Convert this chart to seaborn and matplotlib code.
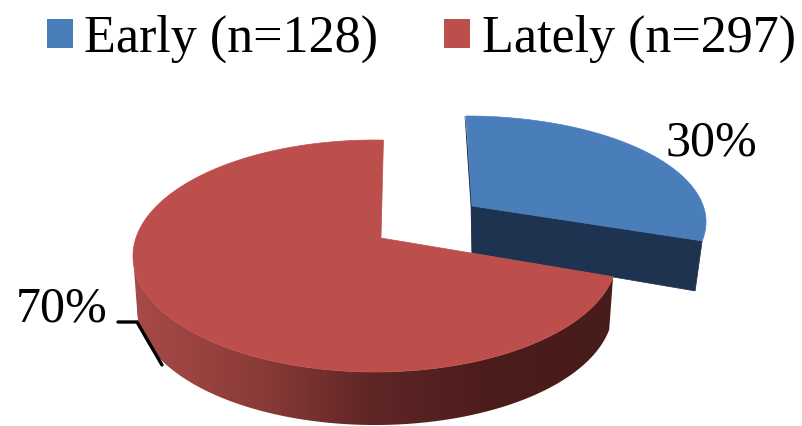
import numpy as np
import matplotlib
matplotlib.use("Agg")
import matplotlib.pyplot as plt
from matplotlib.colors import LinearSegmentedColormap
from matplotlib.patches import Patch, Polygon
import seaborn as sns

# Patient counts per onset group
groups = ["Early", "Lately"]
counts = [128, 297]
percent_labels = ["30%", "70%"]

sns.set_theme(style="white")
plt.rcParams["font.family"] = ["Liberation Serif", "DejaVu Serif"]
palette = sns.color_palette(["#4A7EBB", "#BC4F4C"])
BLUE_SIDE = "#1D3350"
RED_RIM = LinearSegmentedColormap.from_list(
    "rim", ["#A84A48", "#8C3C38", "#5F2626", "#4B1C1B", "#481C1A"])

# Perspective projection of the two exploded slices (canvas units)
PERSPECTIVE = 0.925
early_sweep = 360 * counts[0] / sum(counts) * PERSPECTIVE
EARLY = dict(cx=466, cy=222, rx=240, ry=106, apex=(472, 206))
LATELY = dict(cx=375, cy=256, rx=242, ry=116, apex=(381, 238))
LATELY_DEPTH = 53
RIM_TAPER = 4


def arc(shape, start, stop, num=240, shrink=0):
    t = np.radians(np.linspace(start, stop, num))
    return (shape["cx"] + (shape["rx"] - shrink) * np.sin(t),
            shape["cy"] - shape["ry"] * np.cos(t))


fig = plt.figure(figsize=(8.03, 4.26), dpi=100)
ax = fig.add_axes([0, 0, 1, 1])
ax.axis("off")

# Early slice: thin back face, cut face, then the top surface
x, y = arc(EARLY, 0, early_sweep)
ex, ey = EARLY["apex"]
ax.fill([x[0] - 1, ex - 1, ex, ex], [y[0], ey, ey + 47, ey], color=BLUE_SIDE, lw=0.5)
ax.fill([ex, x[-1], x[-1] - 7, ex], [ey, y[-1], y[-1] + 50, ey + 47],
        color=BLUE_SIDE, lw=0.5)
ax.fill(np.r_[ex, x], np.r_[ey, y], color=palette[0], lw=0.5)

# Lately slice: outer rim with a horizontal shade, then the top surface
rim_x, rim_y = arc(LATELY, early_sweep, 270, 300)
low_x, low_y = arc(LATELY, early_sweep, 270, 300, shrink=RIM_TAPER)
rim = Polygon(np.c_[np.r_[rim_x, low_x[::-1]],
                    np.r_[rim_y, low_y[::-1] + LATELY_DEPTH]],
              transform=ax.transData, facecolor="none", edgecolor="none")
ax.add_patch(rim)
shade = ax.imshow(np.linspace(0, 1, 256)[None, :], cmap=RED_RIM, aspect="auto",
                  extent=(rim_x.min(), rim_x.max(), 426, 0), zorder=1.5)
shade.set_clip_path(rim)

x, y = arc(LATELY, early_sweep, 362, 400)
lx, ly = LATELY["apex"]
ax.fill(np.r_[lx, x], np.r_[ly, y], color=palette[1], lw=0.5, zorder=2)

ax.set_xlim(0, 803)
ax.set_ylim(426, 0)

# Percentage labels and the leader line of the larger slice
ax.text(666, 156, percent_labels[0], fontsize=36, color="black", ha="left", va="baseline")
ax.text(16, 321, percent_labels[1], fontsize=36, color="black", ha="left", va="baseline")
ax.plot([118, 137, 162], [322, 322, 365], color="black", lw=2.4,
        solid_joinstyle="miter", zorder=3)

handles = [Patch(facecolor=c, edgecolor="none") for c in palette]
labels = [f"{g} (n={n})" for g, n in zip(groups, counts)]
ax.legend(handles, labels, ncol=2, frameon=False, fontsize=37.5,
          loc="upper left", bbox_to_anchor=(47 / 803, 0.965), borderaxespad=0, borderpad=0,
          handlelength=0.5, handleheight=0.5, handletextpad=0.22, columnspacing=1.26,
          labelcolor="black")

fig.savefig("out.png", dpi=100)
